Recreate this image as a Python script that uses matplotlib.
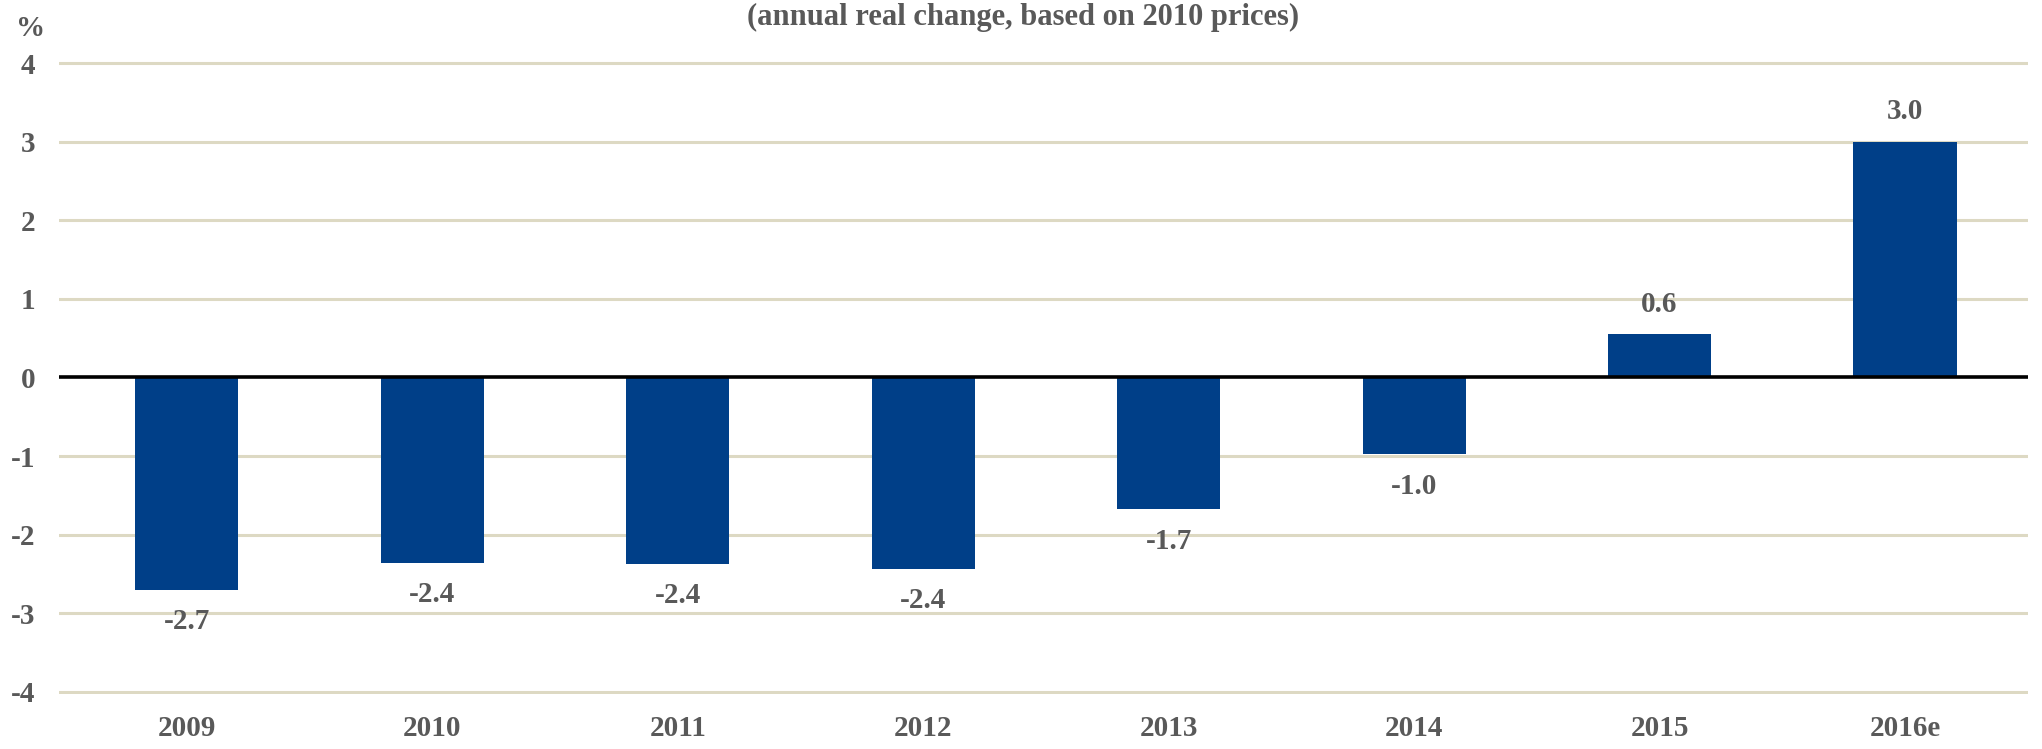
import matplotlib
matplotlib.use('Agg')
import matplotlib.pyplot as plt

# data
years = ['2009', '2010', '2011', '2012', '2013', '2014', '2015', '2016e']
change = [-2.70, -2.36, -2.38, -2.44, -1.68, -0.98, 0.55, 3.00]
value_labels = ['-2.7', '-2.4', '-2.4', '-2.4', '-1.7', '-1.0', '0.6', '3.0']
y_ticks = [-4, -3, -2, -1, 0, 1, 2, 3, 4]

TEXT = '#595959'
BAR = '#003f88'
GRID = '#ddd9c3'
FS = 21

plt.rcParams['font.family'] = ['Liberation Serif', 'DejaVu Serif']
plt.rcParams['font.weight'] = 'bold'

fig = plt.figure(figsize=(20.42, 7.49), dpi=100)
ax = fig.add_axes([0.029, 0.0734, 0.964, 0.8452])

x = range(len(years))
ax.bar(x, change, width=0.42, color=BAR, zorder=3)

for xi, v, lab in zip(x, change, value_labels):
    off = 12 if v >= 0 else -13
    ax.annotate(lab, (xi, v), xytext=(0, off), textcoords='offset points',
                ha='center', va='bottom' if v >= 0 else 'top',
                fontsize=FS, fontweight='bold', color=TEXT)

ax.set_xlim(-0.52, 7.5)
ax.set_ylim(-4.03, 4.03)
ax.set_yticks(y_ticks)
ax.set_yticklabels([str(t) for t in y_ticks])
ax.set_xticks(list(x))
ax.set_xticklabels(years)

for t in y_ticks:
    if t != 0:
        ax.axhline(t, color=GRID, linewidth=2.2, zorder=1)
ax.axhline(0, color='black', linewidth=2.6, zorder=4)

for s in ax.spines.values():
    s.set_visible(False)
ax.tick_params(axis='both', length=0, labelsize=FS, labelcolor=TEXT)
ax.tick_params(axis='y', pad=17)
ax.tick_params(axis='x', pad=15)

fig.text(0.501, 0.966, '(annual real change, based on 2010 prices)', ha='center',
         va='baseline', fontsize=22, fontweight='bold', color=TEXT)
fig.text(0.008, 0.952, '%', ha='left', va='baseline', fontsize=FS,
         fontweight='bold', color=TEXT)

fig.savefig('out.png', dpi=100)
